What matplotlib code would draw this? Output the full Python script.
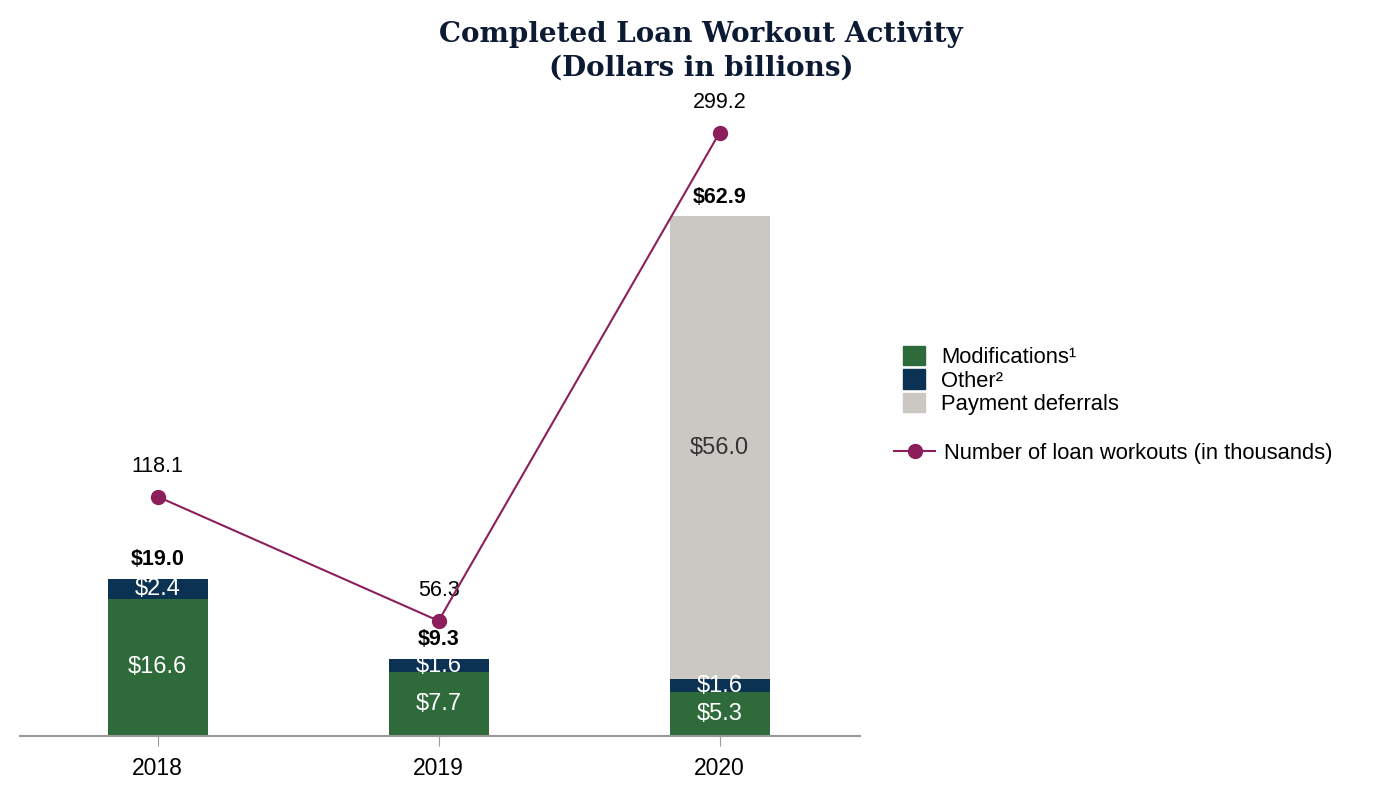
import numpy as np
import matplotlib.pyplot as plt
from matplotlib.patches import Patch
from matplotlib.lines import Line2D

plt.rcParams['font.family'] = ['Liberation Sans', 'DejaVu Sans']

# --- data ---
years = ["2018", "2019", "2020"]
modifications = [16.6, 7.7, 5.3]
other = [2.4, 1.6, 1.6]
deferrals = [0.0, 0.0, 56.0]
totals = [19.0, 9.3, 62.9]
workouts = [118.1, 56.3, 299.2]

GREEN = "#2e6a3a"
NAVY = "#0b3252"
GRAY = "#cbc8c4"
PLUM = "#8c1e5b"
TITLE = "#0c1a33"

fig = plt.figure(figsize=(14, 8), dpi=100)
ax = fig.add_axes([20 / 1400, 64 / 800, 840 / 1400, 636 / 800])
x = np.arange(len(years))
w = 0.356

mods = np.array(modifications)
oth = np.array(other)
dfr = np.array(deferrals)

ax.bar(x, mods, w, color=GREEN, zorder=2)
ax.bar(x, oth, w, bottom=mods, color=NAVY, zorder=2)
ax.bar(x[dfr > 0], dfr[dfr > 0], w, bottom=(mods + oth)[dfr > 0], color=GRAY, zorder=2)

# segment labels
for i in range(len(years)):
    ax.text(x[i], mods[i] / 2, f"${mods[i]:.1f}", color="white", fontsize=17,
            ha="center", va="center", zorder=3)
    ax.text(x[i], mods[i] + oth[i] / 2, f"${oth[i]:.1f}", color="white", fontsize=17,
            ha="center", va="center", zorder=3)
    if dfr[i] > 0:
        ax.text(x[i], mods[i] + oth[i] + dfr[i] / 2, f"${dfr[i]:.1f}", color="#333333",
                fontsize=17, ha="center", va="center", zorder=3)
    ax.annotate(f"${totals[i]:.1f}", (x[i], totals[i]), xytext=(0, 14),
                textcoords="offset points", ha="center", va="center",
                fontsize=15.5, fontweight="bold", color="black")

ax.set_xlim(-0.49, 2.5)
ax.set_ylim(0, 77.0)
ax.set_xticks(x)
ax.set_xticklabels(years, fontsize=16.5)
ax.tick_params(axis="x", length=7, color="#999999", pad=8)
ax.set_yticks([])
for s in ["top", "right", "left"]:
    ax.spines[s].set_visible(False)
ax.spines["bottom"].set_color("#999999")
ax.spines["bottom"].set_linewidth(1.5)

# line on secondary axis
ax2 = ax.twinx()
ax2.plot(x, workouts, color=PLUM, lw=1.5, marker="o", markersize=10, zorder=5)
for i in range(len(years)):
    ax2.annotate(f"{workouts[i]:.1f}", (x[i], workouts[i]), xytext=(0, 22),
                 textcoords="offset points", ha="center", va="center",
                 fontsize=15.5, color="black")
ax2.set_ylim(-1, 315.5)
ax2.set_yticks([])
for s in ["top", "right", "left", "bottom"]:
    ax2.spines[s].set_visible(False)

# title
fig.text(701 / 1400, 1 - 51 / 800, "Completed Loan Workout Activity\n(Dollars in billions)",
         ha="center", va="center", fontsize=20, fontweight="bold",
         family="DejaVu Serif", color=TITLE, linespacing=1.3)

# legends
bar_handles = [Patch(color=GREEN), Patch(color=NAVY), Patch(color=GRAY)]
bar_labels = ["Modifications\u00b9", "Other\u00b2", "Payment deferrals"]
leg1 = fig.legend(bar_handles, bar_labels, loc="upper left",
                  bbox_to_anchor=(894 / 1400, 1 - 337 / 800), frameon=False,
                  fontsize=15.8, handlelength=1.0, handleheight=1.0,
                  labelspacing=0.05, handletextpad=0.75, borderaxespad=0)
line_handle = [Line2D([0], [0], color=PLUM, lw=1.5, marker="o", markersize=10)]
leg2 = fig.legend(line_handle, ["Number of loan workouts (in thousands)"], loc="upper left",
                  bbox_to_anchor=(885 / 1400, 1 - 434 / 800), frameon=False,
                  fontsize=15.8, handlelength=1.9, handletextpad=0.4, borderaxespad=0)

fig.savefig("out.png", dpi=100)
